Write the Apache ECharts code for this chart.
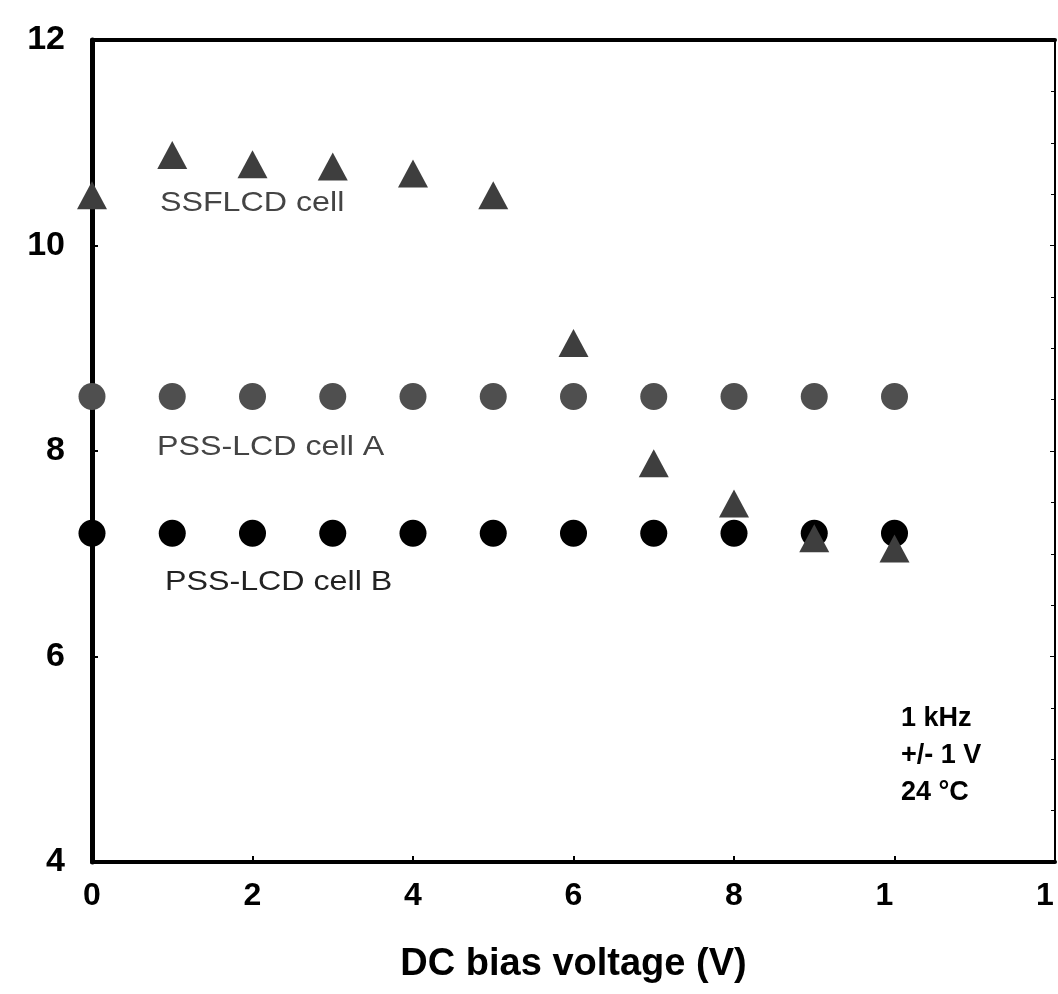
<!DOCTYPE html>
<html>
<head>
<meta charset="utf-8">
<script src="https://cdn.jsdelivr.net/npm/echarts@6/dist/echarts.min.js"></script>
<style>
  html, body { margin: 0; padding: 0; background: #fff; }
  #chart { width: 1058px; height: 994px; }
</style>
</head>
<body>
<div id="chart"></div>
<script>
// DC bias voltage (V)
var voltage = [0, 1, 2, 3, 4, 5, 6, 7, 8, 9, 10];
// SSFLCD cell (triangles)
var ssflcd = [10.49, 10.88, 10.79, 10.77, 10.70, 10.49, 9.05, 7.88, 7.49, 7.15, 7.05];
// PSS-LCD cell A (grey dots)
var cellA = [8.53, 8.53, 8.53, 8.53, 8.53, 8.53, 8.53, 8.53, 8.53, 8.53, 8.53];
// PSS-LCD cell B (black dots)
var cellB = [7.2, 7.2, 7.2, 7.2, 7.2, 7.2, 7.2, 7.2, 7.2, 7.2, 7.2];
// x tick labels as printed (10 and 12 are cut to "1" in the source)
var xTickLabels = {0: '0', 2: '2', 4: '4', 6: '6', 8: '8', 10: '1', 12: '1'};
var noteLines = ['1 kHz', '+/- 1 V', '24 °C'];

function pairs(xs, ys) {
    return xs.map(function (x, i) { return [x, ys[i]]; });
}

var myChart = echarts.init(document.getElementById('chart'));

var boldFont = 'Liberation Sans, Arial, sans-serif';

myChart.setOption({
    backgroundColor: '#fff',
    animation: false,
    grid: {
        left: 92,
        right: 3,
        top: 40,
        bottom: 132,
        containLabel: false,
        outerBoundsMode: 'none'
    },
    xAxis: [{
        type: 'value',
        min: 0,
        max: 12,
        interval: 2,
        position: 'bottom',
        name: 'DC bias voltage (V)',
        nameLocation: 'middle',
        nameGap: 84,
        nameTextStyle: {
            fontFamily: boldFont,
            fontWeight: 'bold',
            fontSize: 38,
            color: '#000'
        },
        axisLine: { onZero: false, lineStyle: { color: '#000', width: 4 } },
        axisTick: { inside: true, length: 6, lineStyle: { color: '#000', width: 2 } },
        splitLine: { show: false },
        axisLabel: {
            margin: 18,
            fontFamily: boldFont,
            fontWeight: 'bold',
            fontSize: 32,
            color: '#000',
            showMinLabel: true,
            showMaxLabel: true,
            hideOverlap: false,
            formatter: function (v) {
                var t = xTickLabels[v];
                return v >= 10 ? '{cut|' + t + '}' : t;
            },
            rich: {
                cut: {
                    fontFamily: boldFont,
                    fontWeight: 'bold',
                    fontSize: 32,
                    color: '#000',
                    padding: [0, 20, 0, 0]
                }
            }
        }
    }, {
        type: 'value',
        min: 0,
        max: 12,
        position: 'top',
        axisLine: { onZero: false, lineStyle: { color: '#000', width: 4 } },
        axisTick: { show: false },
        axisLabel: { show: false },
        splitLine: { show: false }
    }],
    yAxis: [{
        type: 'value',
        min: 4,
        max: 12,
        interval: 2,
        position: 'left',
        axisLine: { onZero: false, lineStyle: { color: '#000', width: 5 } },
        axisTick: { inside: true, length: 6, lineStyle: { color: '#000', width: 2 } },
        splitLine: { show: false },
        axisLabel: {
            margin: 27,
            fontFamily: boldFont,
            fontWeight: 'bold',
            fontSize: 34,
            color: '#000',
            padding: [0, 0, 10, 0],
            showMinLabel: true,
            showMaxLabel: true
        }
    }, {
        type: 'value',
        min: 4,
        max: 12,
        interval: 2,
        position: 'right',
        axisLine: { onZero: false, lineStyle: { color: '#000', width: 2 } },
        axisTick: { inside: true, length: 5, lineStyle: { color: '#000', width: 1 } },
        minorTick: { show: true, splitNumber: 4, length: 4, lineStyle: { color: '#000', width: 1 } },
        axisLabel: { show: false },
        splitLine: { show: false }
    }],
    series: [{
        name: 'PSS-LCD cell B',
        type: 'scatter',
        data: pairs(voltage, cellB),
        symbol: 'circle',
        symbolSize: 27,
        itemStyle: { color: '#000', opacity: 1 },
        z: 2
    }, {
        name: 'PSS-LCD cell A',
        type: 'scatter',
        data: pairs(voltage, cellA),
        symbol: 'circle',
        symbolSize: 27,
        itemStyle: { color: '#4f4f4f', opacity: 1 },
        z: 3
    }, {
        name: 'SSFLCD cell',
        type: 'scatter',
        data: pairs(voltage, ssflcd),
        symbol: 'triangle',
        symbolSize: [30, 28],
        itemStyle: { color: '#3e3e3e', opacity: 1 },
        z: 4
    }],
    graphic: [{
        type: 'text', left: 160, top: 189, scaleX: 1.15,
        style: { text: 'SSFLCD cell', font: '28px "Liberation Sans", Arial, sans-serif', fill: '#444' }
    }, {
        type: 'text', left: 157, top: 433, scaleX: 1.15,
        style: { text: 'PSS-LCD cell A', font: '28px "Liberation Sans", Arial, sans-serif', fill: '#444' }
    }, {
        type: 'text', left: 165, top: 568, scaleX: 1.15,
        style: { text: 'PSS-LCD cell B', font: '28px "Liberation Sans", Arial, sans-serif', fill: '#222' }
    }, {
        type: 'text', left: 901, top: 700,
        style: {
            text: noteLines.join('\n'),
            font: 'bold 27px "Liberation Sans", Arial, sans-serif',
            lineHeight: 37,
            fill: '#000'
        }
    }]
});
</script>
</body>
</html>
